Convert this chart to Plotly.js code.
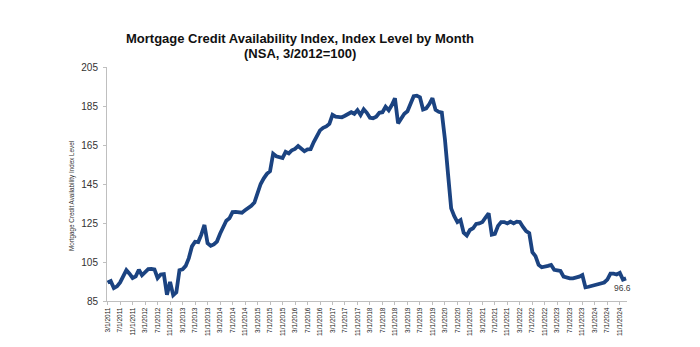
<!DOCTYPE html>
<html>
<head>
<meta charset="utf-8">
<script src="https://cdn.plot.ly/plotly-3.0.1.min.js"></script>
<style>html,body{margin:0;padding:0;background:#fff;}#chart{width:700px;height:347px;}</style>
</head>
<body>
<div id="chart"></div>
<script>
// MCAI monthly values (NSA, 3/2012=100)
const mcai2011 = [94.4, 95.2, 91.6, 92.5, 94.5, 97.5, 100.8, 99.0, 96.8, 97.6]; // Mar–Dec
const mcai2012 = [101.0, 98.2, 100.0, 101.3, 101.4, 101.2, 96.8, 98.6, 98.8, 88.2, 94.8, 88.0];
const mcai2013 = [89.5, 100.8, 101.3, 103.0, 107.0, 113.0, 115.4, 115.2, 119.0, 124.0, 114.6, 113.3];
const mcai2014 = [114.0, 115.5, 119.5, 123.5, 126.2, 127.4, 130.6, 130.7, 130.4, 130.3, 131.5, 132.5];
const mcai2015 = [133.8, 135.5, 140.2, 145.0, 147.9, 150.2, 151.5, 160.5, 159.2, 158.6, 158.3, 161.5];
const mcai2016 = [160.7, 162.3, 163.0, 164.5, 163.0, 161.8, 162.8, 162.9, 166.5, 170.0, 172.5, 173.8];
const mcai2017 = [174.5, 175.8, 180.5, 179.5, 179.2, 179.2, 180.0, 181.0, 181.8, 181.0, 182.9, 180.4];
const mcai2018 = [183.3, 181.5, 179.0, 178.7, 179.5, 181.5, 181.8, 184.6, 182.8, 185.5, 189.0, 176.1];
const mcai2019 = [178.6, 181.0, 182.3, 186.0, 190.0, 190.3, 189.5, 183.2, 183.8, 186.0, 189.0, 183.0];
const mcai2020 = [182.0, 181.6, 168.0, 150.0, 132.5, 128.5, 125.5, 126.5, 120.0, 118.6, 121.4, 122.3];
const mcai2021 = [124.5, 124.8, 125.5, 127.8, 130.0, 119.0, 119.4, 123.5, 125.5, 125.5, 124.8, 125.7];
const mcai2022 = [124.8, 125.7, 125.5, 123.0, 120.8, 119.8, 110.0, 108.0, 103.5, 102.3, 102.5, 103.0];
const mcai2023 = [103.5, 101.0, 100.7, 100.4, 97.5, 96.8, 96.6, 96.6, 96.9, 97.5, 98.3, 92.0];
const mcai2024 = [92.3, 92.7, 93.3, 93.6, 94.0, 94.5, 96.0, 99.0, 99.0, 98.6, 99.4, 96.0];
const mcai2025 = [96.6]; // Jan

const firstMonth = 3, firstYear = 2011;

const titleLine1 = 'Mortgage Credit Availability Index, Index Level by Month';
const titleLine2 = '(NSA, 3/2012=100)';
const yTitle = 'Mortgage Credit Availability Index Level';

const tickLabels = [
  "3/1/2011","7/1/2011","11/1/2011","3/1/2012","7/1/2012","11/1/2012",
  "3/1/2013","7/1/2013","11/1/2013","3/1/2014","7/1/2014","11/1/2014",
  "3/1/2015","7/1/2015","11/1/2015","3/1/2016","7/1/2016","11/1/2016",
  "3/1/2017","7/1/2017","11/1/2017","3/1/2018","7/1/2018","11/1/2018",
  "3/1/2019","7/1/2019","11/1/2019","3/1/2020","7/1/2020","11/1/2020",
  "3/1/2021","7/1/2021","11/1/2021","3/1/2022","7/1/2022","11/1/2022",
  "3/1/2023","7/1/2023","11/1/2023","3/1/2024","7/1/2024","11/1/2024"
];

const values = [].concat(mcai2011, mcai2012, mcai2013, mcai2014, mcai2015, mcai2016,
  mcai2017, mcai2018, mcai2019, mcai2020, mcai2021, mcai2022, mcai2023, mcai2024, mcai2025);

const months = values.map((_, i) => {
  const k = firstMonth - 1 + i;
  return (k % 12 + 1) + "/1/" + (firstYear + Math.floor(k / 12));
});

const lastVal = values[values.length - 1];
const lastCat = months[months.length - 1];

const trace = {
  x: months, y: values, type: 'scatter', mode: 'lines',
  line: {color: '#1b4381', width: 3.8},
  hoverinfo: 'skip'
};

// plot area in pixels: left 107, width 520, top 67, height 234
const px = (p) => (p - 107) / 520;
const py = (p) => (301 - p) / 234;

const layout = {
  width: 700, height: 347,
  margin: {l: 107, r: 73, t: 67, b: 46, pad: 0},
  paper_bgcolor: '#ffffff', plot_bgcolor: '#ffffff',
  showlegend: false,
  font: {family: 'Liberation Sans, Arial, sans-serif', color: '#222'},
  xaxis: {
    type: 'category', range: [-0.2, 166.3],
    tickmode: 'array', tickvals: tickLabels, ticktext: tickLabels,
    tickangle: -90, tickfont: {size: 6.5, color: '#222'},
    ticks: 'outside', ticklen: 3, tickcolor: '#bfbfbf', tickwidth: 1,
    showline: true, linecolor: '#bfbfbf', linewidth: 1,
    showgrid: false, zeroline: false, fixedrange: true
  },
  yaxis: {
    range: [85, 205], tick0: 85, dtick: 20,
    tickfont: {size: 10, color: '#333'},
    ticks: 'outside', ticklen: 3, tickcolor: '#bfbfbf', tickwidth: 1,
    ticklabelstandoff: 3,
    showline: true, linecolor: '#bfbfbf', linewidth: 1,
    showgrid: false, zeroline: false, fixedrange: true
  },
  annotations: [
    {
      text: '<b>' + titleLine1 + '</b>',
      xref: 'paper', yref: 'paper', x: px(300), y: py(38),
      xanchor: 'center', yanchor: 'middle', showarrow: false,
      font: {size: 13, color: '#111'}
    },
    {
      text: '<b>' + titleLine2 + '</b>',
      xref: 'paper', yref: 'paper', x: px(300), y: py(53),
      xanchor: 'center', yanchor: 'middle', showarrow: false,
      font: {size: 13, color: '#111'}
    },
    {
      text: yTitle,
      xref: 'paper', yref: 'paper', x: px(72), y: py(196),
      xanchor: 'center', yanchor: 'middle', textangle: -90, showarrow: false,
      font: {size: 6.3, color: '#333'}
    },
    {
      text: String(lastVal), x: lastCat, y: lastVal, xref: 'x', yref: 'y',
      showarrow: false, xshift: -4, yshift: -10,
      font: {size: 8.5, color: '#404040'}
    }
  ]
};

Plotly.newPlot('chart', [trace], layout, {staticPlot: true, displayModeBar: false});
</script>
</body>
</html>
